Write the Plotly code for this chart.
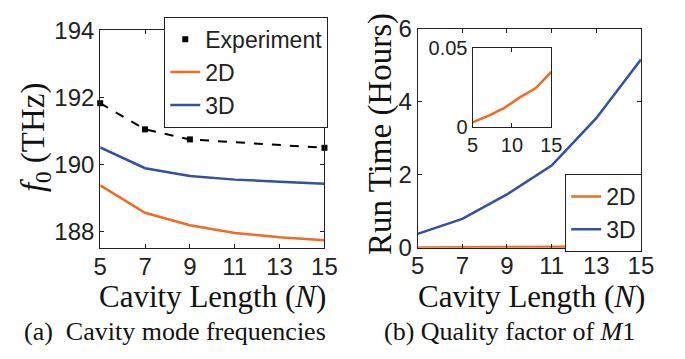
import plotly.graph_objects as go

# ---- data ----
N_all = [5, 7, 9, 11, 13, 15]
N_exp = [5, 7, 9, 15]
f_exp = [191.82, 191.04, 190.74, 190.49]
f_2d = [189.37, 188.55, 188.18, 187.95, 187.82, 187.73]
f_3d = [190.50, 189.88, 189.65, 189.54, 189.48, 189.42]
t_2d = [0.0026, 0.0068, 0.0117, 0.0185, 0.0243, 0.0347]
t_3d = [0.38, 0.79, 1.46, 2.25, 3.55, 5.16]
x_ticks = [5, 7, 9, 11, 13, 15]
f_ticks = [188, 190, 192, 194]
t_ticks = [0, 2, 4, 6]
inset_x_ticks = [5, 10, 15]
inset_y_ticks = [0, 0.05]
inset_y_labels = ["0", "0.05"]

ORANGE = "#F26B22"
BLUE = "#3150A6"
SANS = "Liberation Sans, Arial, sans-serif"
SERIF = "Liberation Serif, DejaVu Serif, serif"
AX = "#222222"

fig = go.Figure()

# Left panel
fig.add_trace(go.Scatter(x=N_exp, y=f_exp, mode="lines", line=dict(color="black", width=2, dash="dash"),
                         showlegend=False, xaxis="x", yaxis="y"))
fig.add_trace(go.Scatter(x=N_exp, y=f_exp, mode="markers", name="Experiment", cliponaxis=False,
                         marker=dict(symbol="square", size=6, color="black"),
                         xaxis="x", yaxis="y", legend="legend"))
fig.add_trace(go.Scatter(x=N_all, y=f_2d, mode="lines", name="2D", line=dict(color=ORANGE, width=2.5),
                         xaxis="x", yaxis="y", legend="legend"))
fig.add_trace(go.Scatter(x=N_all, y=f_3d, mode="lines", name="3D", line=dict(color=BLUE, width=2.5),
                         xaxis="x", yaxis="y", legend="legend"))

# Right panel
fig.add_trace(go.Scatter(x=N_all, y=t_2d, mode="lines", name="2D", line=dict(color=ORANGE, width=2.5),
                         xaxis="x2", yaxis="y2", legend="legend2"))
fig.add_trace(go.Scatter(x=N_all, y=t_3d, mode="lines", name="3D", line=dict(color=BLUE, width=2.5),
                         xaxis="x2", yaxis="y2", legend="legend2"))

# Inset
fig.add_trace(go.Scatter(x=N_all, y=t_2d, mode="lines", line=dict(color=ORANGE, width=2.5),
                         showlegend=False, xaxis="x3", yaxis="y3"))

def axis(domain, rng, ticks, anchor, size=24, labels=None, standoff=None):
    d = dict(domain=domain, range=rng, tickvals=ticks, ticks="inside", ticklen=4,
             tickcolor=AX, showline=True, linecolor=AX, linewidth=1, mirror="ticks",
             showgrid=False, zeroline=False, anchor=anchor,
             tickfont=dict(family=SANS, size=size, color=AX))
    d["ticktext"] = labels if labels is not None else [str(t) for t in ticks]
    if standoff is not None:
        d["ticklabelstandoff"] = standoff
    return d

W, H = 685, 359
def px(xp): return xp / W
def py(yp): return 1 - yp / H

fig.update_layout(
    width=W, height=H, margin=dict(l=0, r=0, t=0, b=0),
    paper_bgcolor="white", plot_bgcolor="white",
    xaxis=axis([px(96), px(327)], [5, 15], x_ticks, "y", standoff=-3),
    yaxis=axis([py(253), py(17.5)], [187.5, 194], f_ticks, "x"),
    xaxis2=axis([px(423), px(653)], [5, 15], x_ticks, "y2", standoff=-3),
    yaxis2=axis([py(252.7), py(16)], [0, 6], t_ticks, "x2"),
    xaxis3=axis([px(479.5), px(560.7)], [5, 15], inset_x_ticks, "y3", size=20),
    yaxis3=axis([py(121.7), py(36.5)], [0, 0.05], inset_y_ticks, "x3", size=20, labels=inset_y_labels),
    legend=dict(x=px(162), y=py(3), xanchor="left", yanchor="top", bgcolor="white",
                bordercolor=AX, borderwidth=1, font=dict(family=SANS, size=23, color=AX),
                tracegroupgap=0, itemwidth=30),
    legend2=dict(x=px(575), y=py(173), xanchor="left", yanchor="top", bgcolor="white",
                 bordercolor=AX, borderwidth=1, font=dict(family=SANS, size=23, color=AX),
                 tracegroupgap=0, itemwidth=30),
    showlegend=True,
)

ann = [
    dict(x=px(212), y=py(306), text="Cavity Length (<i>N</i>)", size=31),
    dict(x=px(540), y=py(306), text="Cavity Length (<i>N</i>)", size=31),
    dict(x=px(30), y=py(133), text="<i>f</i><sub>0</sub> (THz)", size=33, angle=-90),
    dict(x=px(384), y=py(130), text="Run Time (Hours)", size=33, angle=-90),
    dict(x=px(173.5), y=py(343), text="(a)  Cavity mode frequencies", size=26),
    dict(x=px(518), y=py(343), text="(b) Quality factor of <i>M</i>1", size=26),
]
for a in ann:
    fig.add_annotation(x=a["x"], y=a["y"], xref="paper", yref="paper", text=a["text"],
                       showarrow=False, xanchor="center", yanchor="middle",
                       textangle=a.get("angle", 0),
                       font=dict(family=SERIF, size=a["size"], color="#111111"))

fig.write_html("out.html")
